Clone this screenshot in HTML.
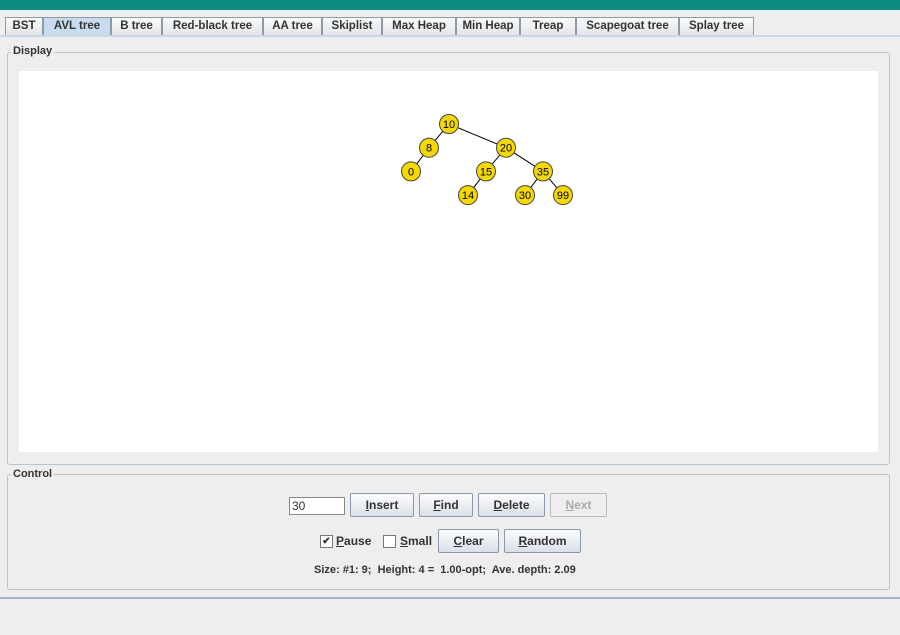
<!DOCTYPE html>
<html><head><meta charset="utf-8"><style>
body{margin:0;width:900px;height:635px;background:#eeeeee;font-family:"Liberation Sans",sans-serif;position:relative;overflow:hidden;font-size:12px;font-weight:bold;color:#333}
.a{position:absolute}
.tab{position:absolute;top:17px;height:17px;border:1px solid #8e9aa6;border-bottom:none;background:linear-gradient(#fafafa,#e2e5e9);text-align:center;line-height:17px;color:#333;font-size:11.5px}
.btn{position:absolute;height:22px;border:1px solid #8a98a8;border-radius:2px;background:linear-gradient(#fdfdfe,#d9e0e8);text-align:center;line-height:22px;color:#333}
.grp{position:absolute;border:1px solid #b8c4d0;border-radius:3px}
.lbl{position:absolute;background:#eeeeee;padding:0 2px;font-size:11px;color:#333}
.cb{position:absolute;width:11px;height:11px;border:1px solid #777;background:#fff;font-size:10px;line-height:11px;text-align:center}
</style></head><body>
<div class="a" style="left:0;top:0;width:900px;height:10px;background:#0f8c82"></div>
<div class="a" style="left:0;top:35px;width:900px;height:2px;background:#c8d8e8"></div>
<div class="tab" style="left:5px;width:36px">BST</div>
<div class="tab" style="left:43px;width:66px;background:#c9dcef">AVL tree</div>
<div class="tab" style="left:111px;width:49px">B tree</div>
<div class="tab" style="left:162px;width:99px">Red-black tree</div>
<div class="tab" style="left:263px;width:57px">AA tree</div>
<div class="tab" style="left:322px;width:58px">Skiplist</div>
<div class="tab" style="left:382px;width:72px">Max Heap</div>
<div class="tab" style="left:456px;width:62px">Min Heap</div>
<div class="tab" style="left:520px;width:54px">Treap</div>
<div class="tab" style="left:576px;width:101px">Scapegoat tree</div>
<div class="tab" style="left:679px;width:73px">Splay tree</div>

<div class="grp" style="left:7px;top:52px;width:881px;height:411px"></div>
<div class="lbl" style="left:11px;top:45px">Display</div>
<div class="a" style="left:19px;top:71px;width:859px;height:381px;background:#fff">
<svg width="859" height="381" style="font-family:'Liberation Sans',sans-serif;font-size:11px;font-weight:normal">
<g id="t" transform="translate(-19,-71)"></g>
</svg></div>

<div class="grp" style="left:7px;top:474px;width:881px;height:114px"></div>
<div class="lbl" style="left:11px;top:468px">Control</div>
<div class="a" style="left:289px;top:497px;border:1px solid #888;background:#fff;font-weight:normal;font-size:12px;line-height:16px;padding-left:2px;box-sizing:border-box;width:56px;height:18px">30</div>
<div class="btn" style="left:350px;top:493px;width:62px"><u>I</u>nsert</div>
<div class="btn" style="left:419px;top:493px;width:52px"><u>F</u>ind</div>
<div class="btn" style="left:478px;top:493px;width:65px"><u>D</u>elete</div>
<div class="btn" style="left:550px;top:493px;width:55px;background:#eeeeee;border-color:#bbb;color:#aaa"><u>N</u>ext</div>
<div class="cb" style="left:320px;top:535px">✔</div>
<div class="a" style="left:336px;top:534px"><u>P</u>ause</div>
<div class="cb" style="left:383px;top:535px"></div>
<div class="a" style="left:400px;top:534px"><u>S</u>mall</div>
<div class="btn" style="left:438px;top:529px;width:59px"><u>C</u>lear</div>
<div class="btn" style="left:504px;top:529px;width:75px"><u>R</u>andom</div>
<div class="a" style="left:314px;top:564px;font-size:11px">Size: #1: 9;&nbsp; Height: 4 =&nbsp; 1.00-opt;&nbsp; Ave. depth: 2.09</div>
<div class="a" style="left:0;top:597px;width:900px;height:2px;background:#9fb6cc"></div>
<script>
const keys=["10","8","0","20","15","35","14","30","99"];
const depth=[0,1,2,1,2,2,3,3,3];
const parent=[-1,0,1,0,3,3,4,5,5];
const xs=[449,429,411,506,486,543,468,525,563];
const g=document.getElementById('t');const ns="http://www.w3.org/2000/svg";
function y(d){return 124+d*23.7}
for(let i=0;i<keys.length;i++){if(parent[i]<0)continue;const l=document.createElementNS(ns,'line');


l.setAttribute('x1',xs[parent[i]]);l.setAttribute('y1',y(depth[parent[i]]));l.setAttribute('x2',xs[i]);l.setAttribute('y2',y(depth[i]));l.setAttribute('stroke','#000');g.appendChild(l);}
for(let i=0;i<keys.length;i++){const c=document.createElementNS(ns,'circle');


c.setAttribute('cx',xs[i]);c.setAttribute('cy',y(depth[i]));c.setAttribute('r',9.5);c.setAttribute('fill','#f5d800');c.setAttribute('stroke','#444');g.appendChild(c);
const t=document.createElementNS(ns,'text');


t.setAttribute('x',xs[i]);t.setAttribute('y',y(depth[i])+4);t.setAttribute('text-anchor','middle');t.textContent=keys[i];g.appendChild(t);}
</script>
</body></html>
